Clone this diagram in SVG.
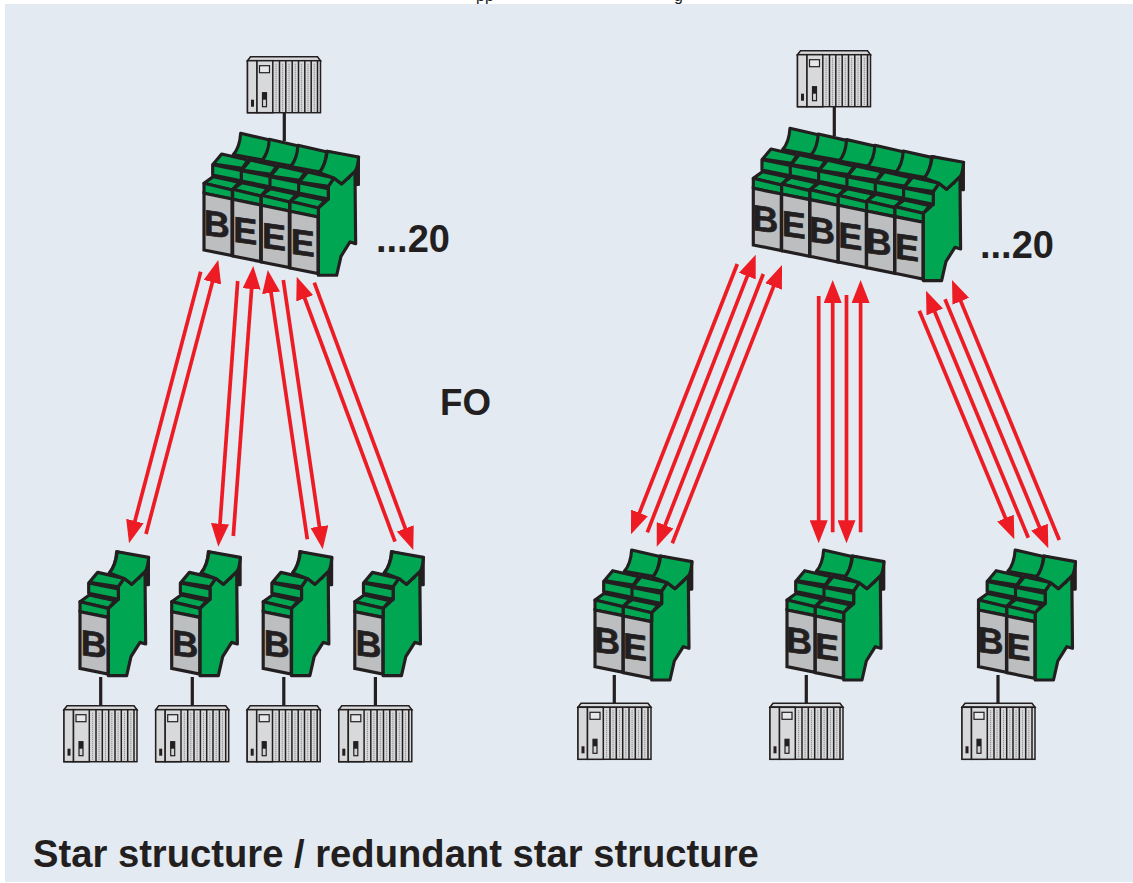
<svg xmlns="http://www.w3.org/2000/svg" width="1133" height="883" viewBox="0 0 1133 883">
<style>
.t{font-family:"Liberation Sans",Arial,sans-serif;fill:#231f20}
.b{font-weight:bold;font-size:38px}
.fo{font-weight:bold;font-size:36.7px}
.title{font-weight:bold;font-size:38.2px}
.l{font-weight:bold;font-size:108px;text-anchor:middle;stroke:#231f20;stroke-width:2}
.g{fill:#00a651;stroke:#231f20;stroke-width:9.5;stroke-linejoin:round}
.s{fill:#bcbec0;stroke:#231f20;stroke-width:9.5;stroke-linejoin:miter}
.p{fill:#d8d9da;stroke:#231f20;stroke-width:1.5}
.d{stroke:#808285;stroke-width:1.1;stroke-dasharray:1 1;fill:none}
.w{stroke:#231f20;stroke-width:3.2;fill:none}
.a{stroke:#ed1c24;stroke-width:3.7;fill:none;marker-end:url(#h)}
</style>
<defs>
<marker id="h" viewBox="0 0 23 18" refX="11" refY="9" markerWidth="23" markerHeight="18" markerUnits="userSpaceOnUse" orient="auto"><path d="M0,0L23,9L0,18Z" fill="#ed1c24"/></marker>
<g id="plc">
<path class="p" d="M0,4L3,0H70L73,4Z"/>
<rect class="p" x="0" y="4" width="73" height="52"/>
<rect class="p" x="0" y="4" width="9.5" height="52"/>
<rect class="p" x="9.5" y="4" width="15.8" height="52"/>
<path class="p" d="M32,4V56M38.3,4V56M44.7,4V56M51,4V56M57.3,4V56M63.7,4V56M70,4V56"/>
<path class="d" d="M28.6,7V54M35.1,7V54M41.5,7V54M47.8,7V54M54.1,7V54M60.5,7V54M66.8,7V54"/>
<rect x="12" y="9" width="10" height="7" fill="#e6e7e8" stroke="#231f20" stroke-width="1.2"/>
<rect x="15" y="36" width="4" height="14" fill="#d1d3d4" stroke="#231f20" stroke-width="1.2"/>
<rect x="15" y="36" width="4" height="7" fill="#231f20"/>
<rect x="3.5" y="43" width="3" height="7" fill="#231f20"/>
</g>
<g id="slice">
<path class="g" d="M110,-180L198,-160C198,-135 190,-120 176,-100L88,-116C102,-132 108,-150 110,-180Z"/>
<path class="g" d="M53,-118L132,-100L115,-75L28,-88Z"/>
<path class="g" d="M26,-86L115,-68V-37L26,-55Z"/>
<path class="g" d="M28,-50L105,-33L85,-10L0,-30Z"/>
<path class="g" d="M0,-30L85,-10V17L0,0Z"/>
<path class="s" d="M0,0L84,17V187L0,170Z"/>
</g>
<g id="body">
<path fill="#231f20" stroke="#231f20" stroke-width="8" stroke-linejoin="round" d="M197,-120L206,-163V-80H197Z"/>
<path class="g" d="M85,-10L115,-37V-75L132,-100L155,-82L195,-120L197,97L180,92L153,135L140,192H85Z"/>
</g>
<path id="cap" class="g" d="M112,-180L206,-163C204,-140 200,-125 195,-120L155,-82L132,-100L88,-116C102,-132 108,-150 112,-180Z"/>
</defs>
<rect x="0" y="0" width="1133" height="883" fill="#fff"/>
<text class="t" x="476" y="1" font-size="16">pp</text>
<text class="t" x="674" y="1" font-size="16">g</text>
<rect x="5" y="4" width="1128" height="878" fill="#e3eaf1"/>
<g id="connectors">
<path class="w" d="M284.3,113V141M834.3,107V136M100.7,677V706M192.3,677V706M283.8,677V706M375.4,677V706M614.3,675V704M806.3,675V704M998,675V704"/>
<path class="a" d="M200.7,271.7L132.1,531.7"/>
<path class="a" d="M146,534L215.2,271.6"/>
<path class="a" d="M237.7,281L219.2,534.7"/>
<path class="a" d="M233.3,536L252.4,278"/>
<path class="a" d="M307.3,539.3L269.5,281.9"/>
<path class="a" d="M283.3,280L321,537.4"/>
<path class="a" d="M395,541.7L300.9,288"/>
<path class="a" d="M314.3,282.7L409.1,538.7"/>
<path class="a" d="M737.3,264L635.4,523.1"/>
<path class="a" d="M647.3,532.3L751.3,265.9"/>
<path class="a" d="M763.3,274L661.1,535.5"/>
<path class="a" d="M672.3,543.3L777.6,276.2"/>
<path class="a" d="M818.7,296V531.3"/>
<path class="a" d="M832.7,532.3V292"/>
<path class="a" d="M846.5,295V531.3"/>
<path class="a" d="M860.6,532.3V292"/>
<path class="a" d="M919.3,310.7L1009.7,528.2"/>
<path class="a" d="M1028.3,537.7L930.6,301.8"/>
<path class="a" d="M945,299.3L1043.7,537.2"/>
<path class="a" d="M1059.3,540L956.6,291.1"/>
</g>
<g id="plc-top-left"><use href="#plc" x="247.5" y="56.7"/></g>
<g id="plc-top-right"><use href="#plc" x="797.5" y="50.7"/></g>
<g id="plc-l1"><use href="#plc" x="64" y="705.7"/></g>
<g id="plc-l2"><use href="#plc" x="155.7" y="705.7"/></g>
<g id="plc-l3"><use href="#plc" x="247.2" y="705.7"/></g>
<g id="plc-l4"><use href="#plc" x="338.8" y="705.7"/></g>
<g id="plc-r1"><use href="#plc" x="578" y="703.3"/></g>
<g id="plc-r2"><use href="#plc" x="770" y="703.3"/></g>
<g id="plc-r3"><use href="#plc" x="962" y="703.3"/></g>
<g id="hub-left" transform="translate(204,193.3) scale(.3333)">
<use href="#body" x="258" y="54"/>
<use href="#slice"/><use href="#slice" x="86" y="18"/><use href="#slice" x="172" y="36"/><use href="#slice" x="258" y="54"/>
<use href="#cap" x="258" y="54"/>
<text class="t l" transform="translate(38,130) skewY(8)">B</text>
<text class="t l" transform="translate(124,150) skewY(8)">E</text>
<text class="t l" transform="translate(210,168) skewY(8)">E</text>
<text class="t l" transform="translate(296,186) skewY(8)">E</text>
</g>
<g id="hub-right" transform="translate(753.3,188.3) scale(.3333)">
<use href="#body" x="425" y="85"/>
<use href="#slice"/><use href="#slice" x="85" y="17"/><use href="#slice" x="170" y="34"/><use href="#slice" x="255" y="51"/><use href="#slice" x="340" y="68"/><use href="#slice" x="425" y="85"/>
<use href="#cap" x="425" y="85"/>
<text class="t l" transform="translate(36,130) skewY(8)">B</text>
<text class="t l" transform="translate(121,147) skewY(8)">E</text>
<text class="t l" transform="translate(206,164) skewY(8)">B</text>
<text class="t l" transform="translate(291,181) skewY(8)">E</text>
<text class="t l" transform="translate(376,198) skewY(8)">B</text>
<text class="t l" transform="translate(461,215) skewY(8)">E</text>
</g>
<g id="node-l1" transform="translate(80,611.7) scale(.3333)"><use href="#body"/><use href="#slice"/><use href="#cap"/><text class="t l" transform="translate(41,135) skewY(8)">B</text></g>
<g id="node-l2" transform="translate(171.7,611.7) scale(.3333)"><use href="#body"/><use href="#slice"/><use href="#cap"/><text class="t l" transform="translate(41,135) skewY(8)">B</text></g>
<g id="node-l3" transform="translate(263.2,611.7) scale(.3333)"><use href="#body"/><use href="#slice"/><use href="#cap"/><text class="t l" transform="translate(41,135) skewY(8)">B</text></g>
<g id="node-l4" transform="translate(354.8,611.7) scale(.3333)"><use href="#body"/><use href="#slice"/><use href="#cap"/><text class="t l" transform="translate(41,135) skewY(8)">B</text></g>
<g id="node-r1" transform="translate(595,610) scale(.3333)"><use href="#body" x="85" y="18"/><use href="#slice"/><use href="#slice" x="85" y="18"/><use href="#cap" x="85" y="18"/><text class="t l" transform="translate(36,130) skewY(8)">B</text><text class="t l" transform="translate(120,148) skewY(8)">E</text></g>
<g id="node-r2" transform="translate(787,610) scale(.3333)"><use href="#body" x="85" y="18"/><use href="#slice"/><use href="#slice" x="85" y="18"/><use href="#cap" x="85" y="18"/><text class="t l" transform="translate(36,130) skewY(8)">B</text><text class="t l" transform="translate(120,148) skewY(8)">E</text></g>
<g id="node-r3" transform="translate(978.5,610) scale(.3333)"><use href="#body" x="85" y="18"/><use href="#slice"/><use href="#slice" x="85" y="18"/><use href="#cap" x="85" y="18"/><text class="t l" transform="translate(36,130) skewY(8)">B</text><text class="t l" transform="translate(120,148) skewY(8)">E</text></g>
<text class="t b" x="376" y="252">...20</text>
<text class="t b" x="980" y="258">...20</text>
<text class="t fo" x="440" y="415">FO</text>
<text class="t title" x="33" y="867">Star structure / redundant star structure</text>
</svg>
